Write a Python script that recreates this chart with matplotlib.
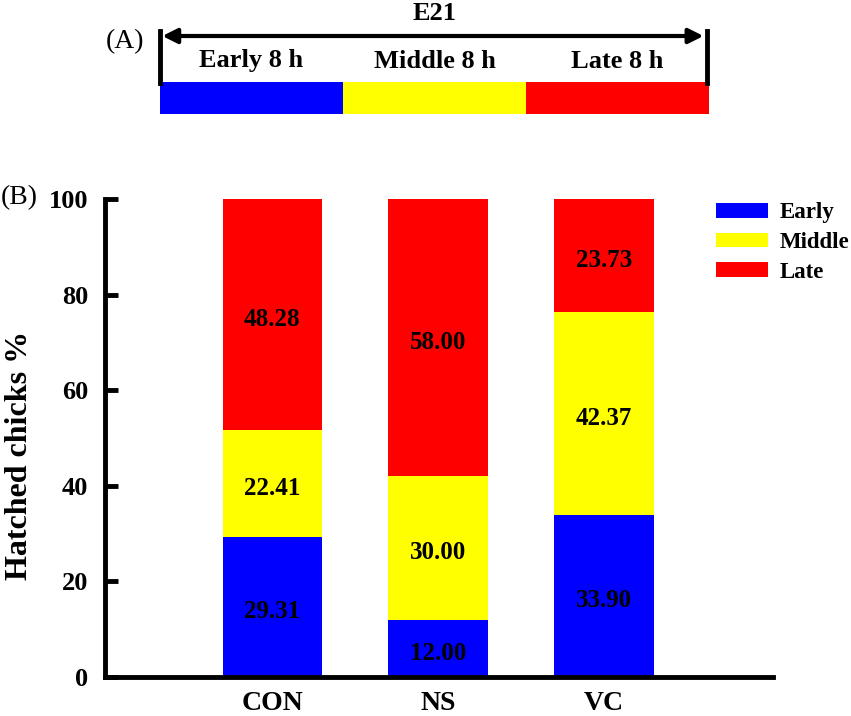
import matplotlib
matplotlib.use("Agg")
import matplotlib.pyplot as plt
import numpy as np

plt.rcParams['font.family'] = ['Liberation Serif', 'DejaVu Serif']
plt.rcParams['font.weight'] = 'bold'

# data
groups = ['CON', 'NS', 'VC']
stages = ['Early', 'Middle', 'Late']
early = [29.31, 12.00, 33.90]
middle = [22.41, 30.00, 42.37]
late = [48.28, 58.00, 23.73]
colors = ['#0000FF', '#FFFF00', '#FF0000']

periods = ['Early 8 h', 'Middle 8 h', 'Late 8 h']
period_hours = [8, 8, 8]

W, H = 851, 716
fig = plt.figure(figsize=(W / 100, H / 100), dpi=100)

# ---- panel A: timeline ----
axA = fig.add_axes([160 / W, (H - 120) / H, 549 / W, 120 / H])
axA.set_xlim(0, sum(period_hours))
axA.set_ylim(120, 0)
axA.axis('off')
left = 0
for p, h, c in zip(periods, period_hours, colors):
    axA.barh(98, h, left=left, height=32, color=c, edgecolor='none')
    axA.text(left + h / 2, 61, p, ha='center', va='center', fontsize=19,
             fontweight='bold')
    left += h
total = sum(period_hours)
axA.plot([0, 0], [31, 83], color='black', lw=3.5, clip_on=False)
axA.plot([total * 0.996, total * 0.996], [31, 83], color='black', lw=3.5,
         clip_on=False)
axA.annotate('', xy=(0.1, 36), xytext=(total * 0.99, 36),
             arrowprops=dict(arrowstyle='<|-|>', color='black', lw=3,
                             mutation_scale=22, shrinkA=0, shrinkB=0))
axA.text(total / 2, 14, 'E21', ha='center', va='center', fontsize=19,
         fontweight='bold')
fig.text(106 / W, 1 - 42 / H, '(A)', ha='left', va='center', fontsize=20,
         fontweight='normal')

# ---- panel B: stacked bars ----
ax = fig.add_axes([105 / W, 39 / H, 668 / W, 478 / H])
x = np.arange(len(groups))
bottom = np.zeros(len(groups))
for name, vals, c in zip(stages, [early, middle, late], colors):
    vals = np.array(vals)
    ax.bar(x, vals, width=0.6, bottom=bottom, color=c, edgecolor='none',
           label=name)
    for xi, b, v in zip(x, bottom, vals):
        ax.text(xi, b + v / 2 - 1.0, f'{v:.2f}', ha='center', va='center',
                fontsize=18, fontweight='bold')
    bottom += vals

ax.set_xlim(-1.01, 3.02)
ax.set_ylim(0, 100)
ax.set_yticks([0, 20, 40, 60, 80, 100])
ax.set_xticks(x)
ax.set_xticklabels(groups)
for s in ['top', 'right']:
    ax.spines[s].set_visible(False)
for s in ['left', 'bottom']:
    ax.spines[s].set_linewidth(3.5)
ax.tick_params(axis='y', direction='in', length=9, width=3.5, labelsize=19,
               pad=12)
ax.tick_params(axis='x', length=0, labelsize=20, pad=10)
ax.set_ylabel('Hatched chicks %', fontsize=23, fontweight='bold')
ax.yaxis.set_label_coords(-0.106, 0.464)

ax.legend(loc='upper left', bbox_to_anchor=(0.915, 0.993), frameon=False,
          fontsize=16.5, handlelength=2.25, handleheight=0.6, handletextpad=0.5,
          labelspacing=0.38, borderpad=0, borderaxespad=0)

fig.text(1 / W, 1 - 198 / H, '(B)', ha='left', va='center', fontsize=20,
         fontweight='normal')

fig.savefig('out.png', dpi=100)
